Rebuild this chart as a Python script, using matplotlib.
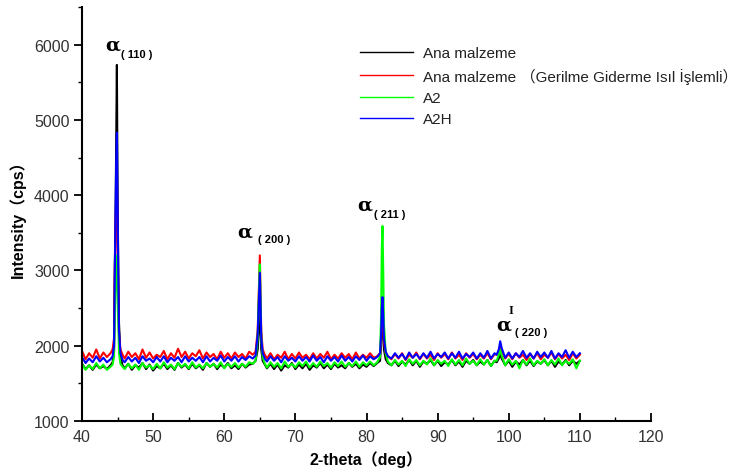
import numpy as np
import matplotlib
matplotlib.use("Agg")
import matplotlib.pyplot as plt
from matplotlib.ticker import MultipleLocator

# ---------------- data ----------------
two_theta = (
    [40.0, 40.5, 41.0, 41.5, 42.0, 42.5, 43.0, 43.5]
    + [44.0, 44.3, 44.5, 44.6, 44.7, 44.8, 44.9, 45.0, 45.1, 45.2, 45.4, 45.7]
    + list(np.arange(46.0, 63.51, 0.5))
    + [64.0, 64.4, 64.7, 64.9, 65.0, 65.1, 65.2, 65.4, 65.7]
    + list(np.arange(66.0, 81.01, 0.5))
    + [81.5, 81.9, 82.05, 82.15, 82.25, 82.35, 82.45, 82.7, 83.0]
    + list(np.arange(83.5, 98.01, 0.5))
    + [98.3, 98.6, 98.8, 99.0, 99.3]
    + list(np.arange(99.5, 110.01, 0.5))
)

ana_malzeme = [
    1760, 1690, 1740, 1680, 1750, 1700, 1730, 1690,
    1740, 1780, 1950, 3050, 3600, 4600, 5730, 4000, 3050, 2300, 1850, 1740,
    1700, 1760, 1680, 1740, 1710, 1770, 1690, 1750, 1670, 1730, 1700, 1760,
    1690, 1740, 1680, 1770, 1710, 1750, 1690, 1760, 1700, 1740, 1680, 1770,
    1720, 1760, 1690, 1750, 1710, 1770, 1700, 1740, 1690, 1760, 1710, 1750,
    1760, 1800, 1950, 2300, 2500, 2200, 1950, 1800, 1750,
    1700, 1760, 1690, 1750, 1670, 1740, 1710, 1770, 1690, 1750, 1700, 1760,
    1680, 1740, 1710, 1770, 1700, 1750, 1690, 1760, 1710, 1740, 1700, 1770,
    1720, 1760, 1700, 1750, 1720, 1770, 1730,
    1770, 1800, 2000, 2300, 2450, 2200, 1950, 1820, 1770,
    1740, 1800, 1730, 1790, 1750, 1810, 1740, 1800, 1720, 1790, 1760, 1810,
    1740, 1800, 1730, 1780, 1750, 1810, 1740, 1790, 1720, 1800, 1760, 1810,
    1740, 1790, 1750, 1810, 1730, 1800,
    1780, 1830, 1900, 1830, 1780,
    1740, 1800, 1720, 1790, 1750, 1810, 1740, 1800, 1730, 1790, 1760, 1810,
    1740, 1800, 1720, 1790, 1750, 1810, 1740, 1800, 1760, 1800,
]

ana_malzeme_gerilme = [
    1930, 1820, 1900, 1840, 1950, 1830, 1910, 1850,
    1900, 1950, 2100, 2900, 3500, 4000, 4400, 3400, 2700, 2150, 1950, 1880,
    1830, 1920, 1850, 1900, 1820, 1950, 1840, 1910, 1830, 1880, 1850, 1930,
    1820, 1900, 1840, 1960, 1850, 1920, 1830, 1900, 1860, 1940, 1830, 1910,
    1850, 1890, 1820, 1920, 1840, 1900, 1830, 1910, 1850, 1890, 1830, 1920,
    1880, 1920, 2200, 2900, 3200, 2700, 2200, 1950, 1880,
    1830, 1900, 1820, 1880, 1840, 1920, 1820, 1890, 1830, 1910, 1840, 1880,
    1820, 1900, 1830, 1890, 1840, 1920, 1820, 1880, 1830, 1900, 1840, 1890,
    1820, 1910, 1830, 1880, 1840, 1900, 1840,
    1860, 1900, 2100, 2400, 2580, 2300, 2050, 1900, 1860,
    1820, 1890, 1830, 1900, 1810, 1880, 1840, 1910, 1820, 1890, 1830, 1880,
    1810, 1900, 1840, 1890, 1820, 1910, 1830, 1880, 1810, 1900, 1840, 1890,
    1820, 1880, 1830, 1900, 1820, 1890,
    1880, 1920, 2000, 1930, 1870,
    1830, 1890, 1820, 1900, 1840, 1880, 1810, 1890, 1830, 1900, 1820, 1880,
    1840, 1910, 1820, 1890, 1830, 1880, 1810, 1900, 1830, 1880,
]

a2 = [
    1760, 1680, 1740, 1690, 1770, 1700, 1750, 1680,
    1720, 1750, 1850, 2300, 2700, 3000, 3200, 2800, 2300, 1900, 1760, 1720,
    1690, 1760, 1700, 1750, 1680, 1770, 1710, 1740, 1690, 1760, 1700, 1780,
    1710, 1750, 1690, 1770, 1720, 1760, 1700, 1780, 1710, 1750, 1700, 1770,
    1720, 1760, 1710, 1780, 1700, 1760, 1720, 1770, 1710, 1760, 1720, 1780,
    1760, 1800, 2100, 2800, 3080, 2600, 2100, 1850, 1760,
    1710, 1780, 1720, 1770, 1700, 1790, 1720, 1760, 1710, 1780, 1730, 1790,
    1710, 1770, 1720, 1790, 1730, 1770, 1710, 1780, 1730, 1790, 1720, 1770,
    1730, 1790, 1720, 1780, 1740, 1790, 1740,
    1780, 1850, 2400, 3300, 3590, 3000, 2300, 1900, 1790,
    1740, 1810, 1750, 1800, 1730, 1820, 1760, 1810, 1740, 1800, 1750, 1830,
    1740, 1810, 1760, 1800, 1730, 1820, 1750, 1810, 1740, 1830, 1760, 1800,
    1740, 1820, 1750, 1810, 1730, 1800,
    1800, 1880, 1950, 1870, 1790,
    1740, 1820, 1750, 1800, 1700, 1810, 1750, 1830, 1740, 1800, 1760, 1820,
    1740, 1810, 1750, 1830, 1740, 1800, 1760, 1820, 1700, 1800,
]

a2h = [
    1850, 1770, 1830, 1780, 1860, 1790, 1840, 1780,
    1820, 1860, 2000, 2900, 3700, 4400, 4830, 3900, 2900, 2200, 1900, 1810,
    1780, 1850, 1790, 1840, 1770, 1860, 1800, 1830, 1780, 1850, 1790, 1860,
    1780, 1840, 1800, 1850, 1780, 1860, 1790, 1840, 1800, 1850, 1780, 1860,
    1790, 1840, 1800, 1870, 1790, 1850, 1800, 1860, 1790, 1850, 1810, 1860,
    1830, 1870, 2150, 2700, 2970, 2500, 2100, 1900, 1830,
    1790, 1860, 1800, 1850, 1780, 1860, 1800, 1840, 1790, 1860, 1800, 1850,
    1790, 1870, 1800, 1850, 1780, 1860, 1800, 1850, 1790, 1870, 1800, 1850,
    1790, 1860, 1810, 1870, 1800, 1860, 1820,
    1850, 1900, 2150, 2500, 2645, 2400, 2100, 1920, 1860,
    1830, 1900, 1840, 1890, 1820, 1910, 1840, 1890, 1830, 1900, 1840, 1920,
    1830, 1890, 1850, 1910, 1830, 1900, 1840, 1920, 1830, 1890, 1850, 1910,
    1830, 1900, 1840, 1930, 1830, 1900,
    1880, 1950, 2060, 1970, 1890,
    1840, 1910, 1830, 1900, 1850, 1930, 1840, 1900, 1830, 1920, 1850, 1910,
    1840, 1930, 1830, 1900, 1850, 1940, 1840, 1920, 1850, 1900,
]

series_labels = ["Ana malzeme", "Ana malzeme （Gerilme Giderme Isıl İşlemli）", "A2", "A2H"]
series_colors = ["#000000", "#ff0000", "#00ff00", "#0000ff"]

peak_names = ["( 110 )", "( 200 )", "( 211 )", "( 220 )"]
x_ticks = [40, 50, 60, 70, 80, 90, 100, 110, 120]
y_ticks = [1000, 2000, 3000, 4000, 5000, 6000]

# ---------------- plot ----------------
FONT = ["Liberation Sans", "Noto Sans CJK SC", "DejaVu Sans"]
plt.rcParams["font.family"] = FONT

fig = plt.figure(figsize=(7.37, 4.77), dpi=100)
ax = fig.add_axes([0.1113, 0.1153, 0.7720, 0.8680])

for ys, lab, col in zip([ana_malzeme, ana_malzeme_gerilme, a2, a2h], series_labels, series_colors):
    ax.plot(two_theta, ys, color=col, lw=1.5, label=lab)

ax.set_xlim(40, 120)
ax.set_ylim(1000, 6500)
ax.set_xticks(x_ticks)
ax.set_yticks(y_ticks)
ax.xaxis.set_minor_locator(MultipleLocator(5))
ax.yaxis.set_minor_locator(MultipleLocator(500))

for s in ["top", "right"]:
    ax.spines[s].set_visible(False)
for s in ["left", "bottom"]:
    ax.spines[s].set_linewidth(1.5)

ax.tick_params(axis="x", which="major", direction="in", length=6, width=1.3,
               labelsize=11.5, colors="#000000", labelcolor="#333333", pad=6)
ax.tick_params(axis="x", which="minor", direction="in", length=3, width=1.0)
ax.tick_params(axis="y", which="major", direction="out", length=6, width=1.3,
               labelsize=11.5, labelcolor="#333333", pad=3)
ax.tick_params(axis="y", which="minor", direction="out", length=3, width=1.0)

ax.set_xlabel("2-theta（deg）", fontsize=11.5, fontweight="bold", labelpad=4)
ax.set_ylabel("Intensity（cps）", fontsize=11.5, fontweight="bold", labelpad=6)

leg = ax.legend(loc="upper left", bbox_to_anchor=(0.4886, 0.905), frameon=False,
                fontsize=11, handlelength=3.5, handletextpad=0.65,
                labelspacing=0.48, borderpad=0, borderaxespad=0)
for line in leg.get_lines():
    line.set_linewidth(1.0)
for t in leg.get_texts():
    t.set_color("#222222")

# peak annotations
alpha_pos = [(43.2, 6000), (61.8, 3520), (78.7, 3878), (98.2, 2286)]
sub_pos = [(45.5, 5870), (64.7, 3414), (81.1, 3745), (100.9, 2180)]
for (ax_, ay_), (sx, sy), nm in zip(alpha_pos, sub_pos, peak_names):
    ax.text(ax_, ay_, "α", fontsize=14, fontweight="bold", family="DejaVu Serif",
            ha="left", va="center")
    ax.text(sx, sy, nm, fontsize=8, fontweight="bold", ha="left", va="center")
ax.text(100.0, 2470, "I", fontsize=9, fontweight="bold", family="Liberation Serif",
        ha="left", va="center")

fig.savefig("out.png", dpi=100)
